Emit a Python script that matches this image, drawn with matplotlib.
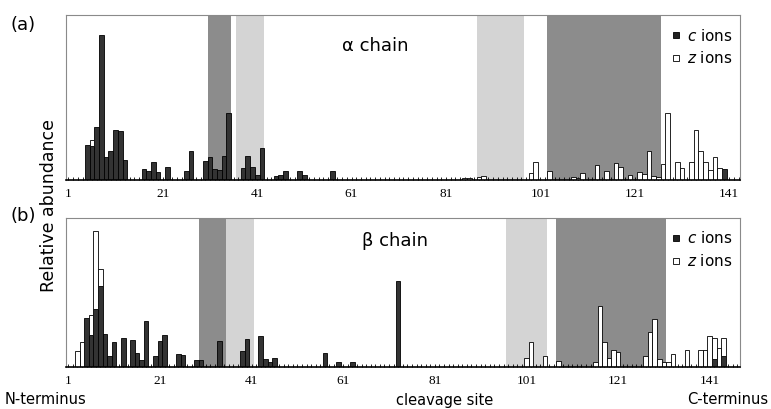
import numpy as np
import matplotlib
matplotlib.use('Agg')
import matplotlib.pyplot as plt
from matplotlib.lines import Line2D

# relative abundance (arbitrary units), by cleavage site
alpha_c_pos = [5, 6, 7, 8, 9, 10, 11, 12, 13, 17, 18, 19, 20, 22, 26, 27, 30, 31, 32, 33, 34, 35,
               38, 39, 40, 41, 42, 45, 46, 47, 50, 51, 57, 140]
alpha_c_val = [34.7, 33.7, 52.7, 145, 22.7, 29, 50, 48.7, 20.3, 11, 9.3, 17.7, 8.3, 13, 9.3, 28.7,
               18.7, 22.7, 11, 10.3, 23.7, 66.7, 12, 24.3, 13, 5.3, 32, 4.3, 5.3, 9.3, 9.3, 4.7, 9.3, 11]
alpha_z_pos = [6, 85, 86, 88, 89, 99, 100, 103, 108, 109, 110, 113, 115, 117, 118, 120, 122, 123,
               124, 125, 126, 127, 128, 130, 131, 133, 134, 135, 136, 137, 138, 139]
alpha_z_val = [6.3, 2.5, 2.5, 2.7, 4.3, 7.3, 17.7, 9.3, 3.3, 2.3, 6.7, 14.7, 9, 16.7, 12.7, 5, 8,
               5.7, 29, 4.3, 3, 15.7, 66.7, 17.7, 12.3, 18.3, 50, 29, 18.3, 10, 23.3, 12.3]

beta_c_pos = [5, 6, 7, 8, 9, 10, 11, 13, 15, 16, 17, 18, 20, 21, 22, 25, 26, 29, 30, 34, 39, 40,
              43, 44, 45, 46, 57, 60, 63, 73, 142, 144]
beta_c_val = [49, 32, 57.7, 81, 33, 11.3, 25.3, 28.7, 27, 14.3, 6.7, 46.3, 10.7, 25.7, 32, 12.7,
              11.7, 6.7, 6.7, 25.7, 16.3, 27.7, 31, 8, 5, 8.7, 14.3, 5, 5, 86, 7.7, 11.3]
beta_z_pos = [3, 4, 6, 7, 8, 101, 102, 105, 108, 116, 117, 118, 119, 120, 121, 127, 128, 129, 130,
              131, 132, 133, 136, 139, 140, 141, 142, 143, 144]
beta_z_val = [16.3, 24.7, 20, 78.7, 16.7, 8.7, 25.3, 11.3, 5.7, 4.7, 61, 25.3, 9.3, 17, 14.7, 11.3,
              34.7, 48, 7.7, 5.3, 4.7, 13, 17, 17, 17, 31, 21, 18.7, 17.3]

# shaded regions (dark, light) in residue units
alpha_dark = [(30.5, 35.5), (102.5, 126.5)]
alpha_light = [(36.5, 42.5), (87.5, 97.5)]
beta_dark = [(29.5, 35.5), (107.5, 131.5)]
beta_light = [(35.5, 41.5), (96.5, 105.5)]

tick_labels = [1, 21, 41, 61, 81, 101, 121, 141]

W, H = 771, 409
fig = plt.figure(figsize=(W / 100, H / 100), dpi=100)
ax_a = fig.add_axes([66 / W, 1 - 180 / H, 674 / W, 165 / H])
ax_b = fig.add_axes([66 / W, 1 - 367 / H, 674 / W, 149 / H])


def draw(ax, c_pos, c_val, z_pos, z_val, dark, light, xmax, ymax, title):
    for a, b in dark:
        ax.axvspan(a, b, color='#8c8c8c', lw=0, zorder=0)
    for a, b in light:
        ax.axvspan(a, b, color='#d4d4d4', lw=0, zorder=0)
    c_lookup = dict(zip(c_pos, c_val))
    ax.bar(c_pos, c_val, width=1.0, color='#333333', edgecolor='black', lw=0.6, zorder=2)
    bottoms = [c_lookup.get(p, 0) for p in z_pos]
    ax.bar(z_pos, z_val, width=1.0, bottom=bottoms, color='white', edgecolor='black', lw=0.6, zorder=2)
    ax.set_xlim(0.5, xmax)
    ax.set_ylim(0, ymax)
    ax.set_yticks([])
    ax.set_xticks(tick_labels)
    ax.set_xticklabels([str(t) for t in tick_labels], family='Liberation Serif', fontsize=9.5)
    ax.set_xticks(np.arange(1, int(xmax) + 1), minor=True)
    ax.tick_params(axis='x', which='both', direction='in', length=2.5, width=0.6, pad=6)
    for s in ['left', 'right', 'top']:
        ax.spines[s].set_color('#8a8a8a')
        ax.spines[s].set_linewidth(0.8)
    ax.spines['bottom'].set_linewidth(1.2)
    ax.text(title[1], title[2], title[0], transform=ax.transAxes, fontsize=13,
            ha='center', va='center')
    handles = [Line2D([], [], marker='s', ls='', markersize=5, markerfacecolor='#222222',
                      markeredgecolor='black', markeredgewidth=0.6),
               Line2D([], [], marker='s', ls='', markersize=5, markerfacecolor='white',
                      markeredgecolor='black', markeredgewidth=0.6)]
    ax.legend(handles, [r'$\it{c}$ ions', r'$\it{z}$ ions'], loc='upper right', frameon=False,
              fontsize=11, handlelength=0.6, handletextpad=0.4, labelspacing=0.45,
              borderaxespad=0.1, bbox_to_anchor=(1.0, 0.97))


draw(ax_a, alpha_c_pos, alpha_c_val, alpha_z_pos, alpha_z_val, alpha_dark, alpha_light,
     143.3, 165, ('α chain', (375 - 66) / 674, 1 - (46 - 15) / 165))
draw(ax_b, beta_c_pos, beta_c_val, beta_z_pos, beta_z_val, beta_dark, beta_light,
     147.6, 149, ('β chain', (395 - 66) / 674, 1 - (241 - 218) / 149))

fig.text(10 / W, 1 - 25 / H, '(a)', fontsize=13, va='center', ha='left')
fig.text(10 / W, 1 - 216 / H, '(b)', fontsize=13, va='center', ha='left')
fig.text(49 / W, 1 - 205 / H, 'Relative abundance', rotation=90, fontsize=12.5,
         va='center', ha='center')
fig.text(5 / W, 1 - 400 / H, 'N-terminus', fontsize=10.5, va='center', ha='left')
fig.text(445 / W, 1 - 400 / H, 'cleavage site', fontsize=10.5, va='center', ha='center')
fig.text(768 / W, 1 - 400 / H, 'C-terminus', fontsize=10.5, va='center', ha='right')

fig.savefig('out.png', dpi=100)
